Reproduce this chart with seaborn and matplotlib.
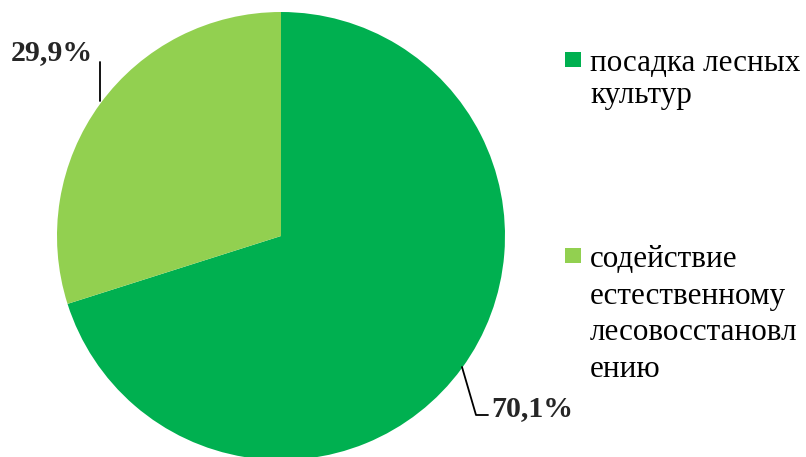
import matplotlib
matplotlib.use("Agg")
import matplotlib.pyplot as plt
import seaborn as sns
import numpy as np
from matplotlib.patches import Rectangle

categories = ["посадка лесных\nкультур",
              "содействие\nестественному\nлесовосстановл\nению"]
values = [70.1, 29.9]
value_labels = ["70,1%", "29,9%"]
colors = ["#00B050", "#92D050"]

sns.set_theme(style="white")
plt.rcParams['font.family'] = ['Liberation Serif', 'DejaVu Serif']

W, H = 806, 457
fig = plt.figure(figsize=(W / 100, H / 100), dpi=100)
cx, cy, R = 281, 236, 224
ax = fig.add_axes([(cx - R) / W, (H - cy - R) / H, 2 * R / W, 2 * R / H])

ax.pie(values, colors=colors, startangle=90, counterclock=False, radius=1,
       wedgeprops=dict(linewidth=0))
ax.set_xlim(-1, 1)
ax.set_ylim(-1, 1)
ax.set_aspect('equal')
ax.axis('off')

def px(x, y):
    return ((x - cx) / R, (cy - y) / R)

# leader lines and labels
# 70,1%
pts = [px(462, 367), px(476, 415), px(488, 415)]
ax.plot([p[0] for p in pts], [p[1] for p in pts], color='black', lw=1.3, clip_on=False)
tx, ty = px(491, 409)
ax.text(tx, ty, value_labels[0], fontsize=21.5, fontweight='bold', ha='left', va='center', clip_on=False)
# 29,9%
pts = [px(100, 101), px(100, 62)]
ax.plot([p[0] for p in pts], [p[1] for p in pts], color='black', lw=1.3, clip_on=False)
tx, ty = px(52, 53)
ax.text(tx, ty, value_labels[1], fontsize=21.5, fontweight='bold', ha='center', va='center', clip_on=False)

# legend
legend_first_baseline = [71, 267]
legend_line_step = [32, 36.7]
for cat, col, b0, step in zip(categories, colors, legend_first_baseline, legend_line_step):
    fig.patches.append(Rectangle((565 / W, 1 - (b0 - 4) / H), 16 / W, 15 / H,
                                 transform=fig.transFigure, facecolor=col, edgecolor='none'))
    for i, line in enumerate(cat.split("\n")):
        fig.text(590 / W, 1 - (b0 + i * step) / H, line, fontsize=22.4,
                 ha='left', va='baseline', color='black')

fig.savefig("out.png", dpi=100)
